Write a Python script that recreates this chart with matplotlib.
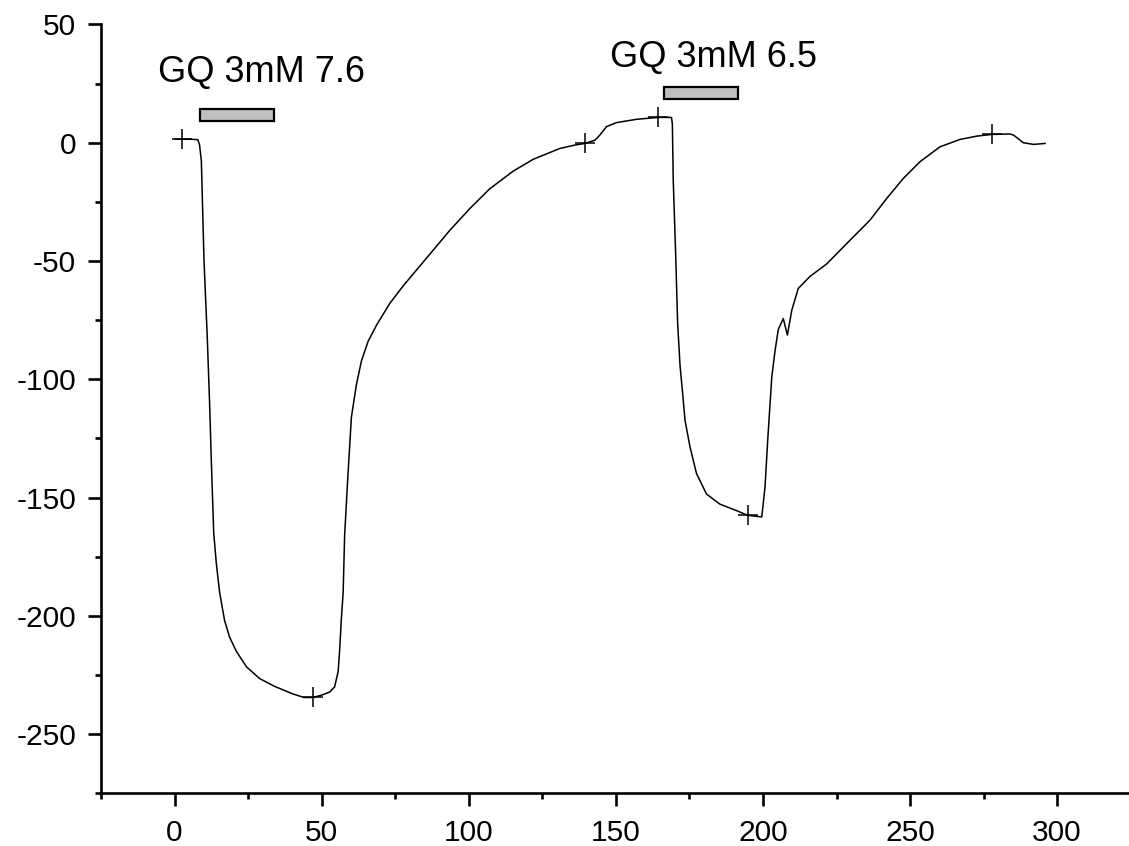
import matplotlib
matplotlib.use("Agg")
import matplotlib.pyplot as plt
from matplotlib.patches import Rectangle
from matplotlib.ticker import MultipleLocator

# ---- data ----
time_x = [0.3, 2.4, 5, 7.9, 8.5, 9.1, 10, 11.1, 11.9, 12.5, 13.3, 14.2, 15.3, 17, 18.7,
          21, 24.4, 28.9, 34, 40.2, 44, 47, 50, 52.7, 54.4, 55.6, 56.1, 56.7, 57.3, 57.8,
          58.9, 60.1, 61.8, 63.5, 65.8, 68.6, 73.1, 77.7, 86.7, 93.5, 100.3, 107.1, 115.1,
          121.9, 131, 136, 139.5, 142.9, 144.6, 146.8, 150.2, 157, 164.4, 168.9, 169.2,
          169.5, 170.3, 171, 171.8, 172.7, 173.5, 175.2, 177.4, 180.8, 185.4, 191, 194.8,
          199.6, 200.7, 201.6, 203, 204.1, 205.2, 206.9, 208.3, 209.8, 212, 216, 221.7,
          229.6, 236.4, 242.1, 247.7, 253.4, 260.2, 267, 272.7, 277.8, 284, 285.2, 288.5,
          292, 295.9]
signal_y = [1.5, 1.5, 1.5, 1.3, -1, -7.8, -50, -82, -110, -135, -165, -178, -190, -202, -209,
            -215, -221.5, -226.5, -229.8, -233, -234.5, -234.5, -233.5, -232.2, -230, -223.5,
            -214.6, -201, -190, -166, -141, -116, -102.3, -92.3, -83.9, -77.2, -68, -60.5,
            -47.2, -37.1, -27.9, -19.5, -12, -7, -2.4, -1, -0.3, 1.1, 3.3, 6.8, 8.5, 9.9,
            10.7, 10.7, 8, -15.8, -46.1, -76.4, -94, -106, -117.3, -128.6, -139.8, -148.5,
            -152.8, -155.5, -157.5, -158.2, -145.5, -126, -99, -88, -79, -74.3, -81.3, -70.8,
            -61.6, -56.5, -51.2, -41.2, -32.7, -23.5, -15.1, -8, -1.7, 1.4, 2.8, 3.5, 3.7,
            3.2, 0, -0.7, -0.3]
marker_times = [2.4, 47, 139.5, 164.4, 194.8, 277.8]

labels = ["GQ 3mM 7.6", "GQ 3mM 6.5"]
label_x = [-5.8, 148]
label_y = [25.8, 32.1]
bar_start = [8.8, 166.3]
bar_end = [33.7, 191.4]
bar_low = [9.1, 18.5]
bar_high = [14.3, 23.7]

x_ticks = [0, 50, 100, 150, 200, 250, 300]
y_ticks = [50, 0, -50, -100, -150, -200, -250]

plt.rcParams['font.family'] = ['Liberation Sans', 'DejaVu Sans']
plt.rcParams['axes.unicode_minus'] = False

fig = plt.figure(figsize=(11.29, 8.46), dpi=100)
ax = fig.add_axes([0.0895, 0.0623, 0.912, 0.9088])

mark_idx = [time_x.index(t) for t in marker_times]
ax.plot(time_x, signal_y, color='black', lw=1.1, marker='+', markevery=mark_idx,
        markersize=15, markeredgewidth=1.1, clip_on=False)

for s, e, lo, hi in zip(bar_start, bar_end, bar_low, bar_high):
    ax.add_patch(Rectangle((s, lo), e - s, hi - lo, facecolor='#c0c0c0',
                           edgecolor='black', lw=1.6, clip_on=False))

for t, lx, ly in zip(labels, label_x, label_y):
    ax.text(lx, ly, t, fontsize=26, ha='left', va='baseline', color='black')

ax.set_xlim(-25, 325)
ax.set_ylim(-275, 50)
ax.set_xticks(x_ticks)
ax.set_yticks(y_ticks)
ax.xaxis.set_minor_locator(MultipleLocator(25))
ax.yaxis.set_minor_locator(MultipleLocator(25))

for side in ['top', 'right']:
    ax.spines[side].set_visible(False)
for side in ['left', 'bottom']:
    ax.spines[side].set_linewidth(1.9)

ax.tick_params(axis='both', which='major', direction='out', length=9.5, width=1.9,
               labelsize=21.5)
ax.tick_params(axis='both', which='minor', direction='out', length=4.5, width=1.9)
ax.tick_params(axis='y', which='major', pad=8.5)
ax.tick_params(axis='x', which='major', pad=9)

fig.savefig('out.png', dpi=100)
